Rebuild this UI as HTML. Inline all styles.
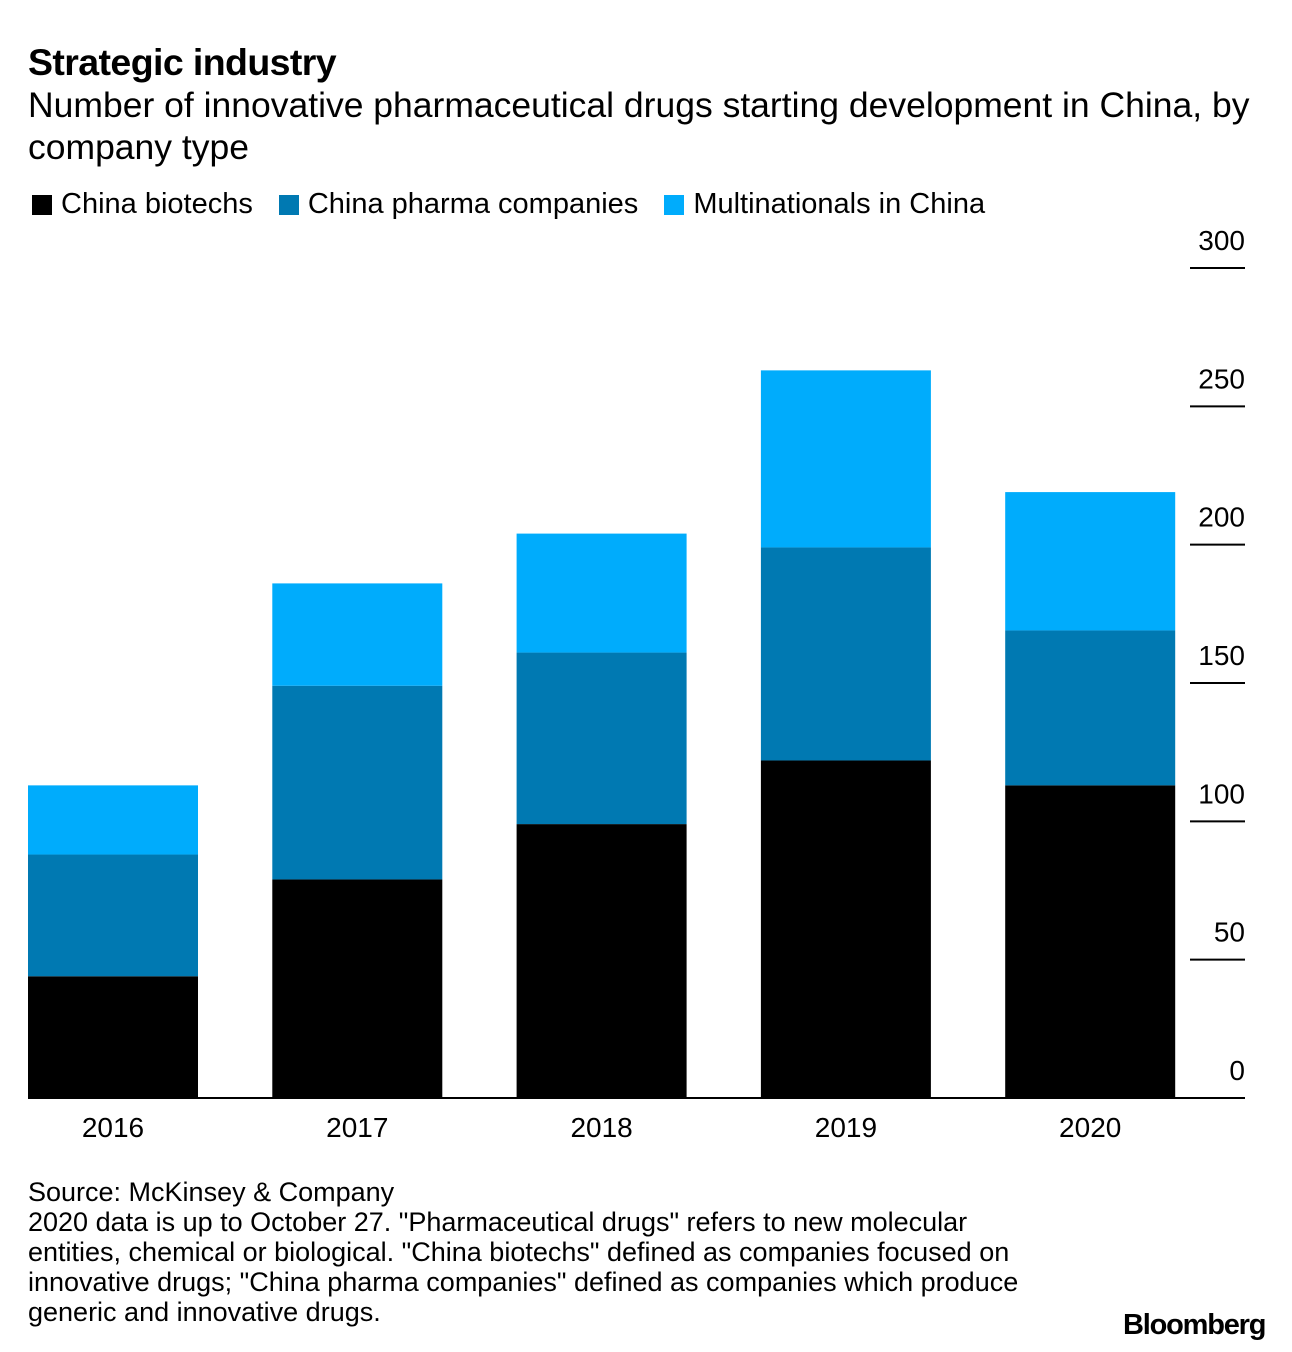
<!DOCTYPE html>
<html><head><meta charset="utf-8"><style>
body{margin:0;background:#fff;font-family:"Liberation Sans",Arial,sans-serif;color:#000}
#wrap{position:relative;width:1292px;height:1352px;overflow:hidden}
.t{position:absolute;white-space:nowrap}
</style></head><body>
<div id="wrap">
<div class="t" style="left:28px;top:41px;font-size:37.5px;font-weight:bold;letter-spacing:-0.6px">Strategic industry</div>
<div class="t" style="left:28px;top:84px;font-size:35.5px;line-height:42px;white-space:normal;width:1262px">Number of innovative pharmaceutical drugs starting development in China, by company type</div>
<div style="position:absolute;left:28px;top:188px;font-size:29px;display:flex;align-items:center">
<span style="display:flex;align-items:center"><span style="width:20px;height:20px;background:#000;margin:0 9px 0 4px"></span>China biotechs</span>
<span style="display:flex;align-items:center;margin-left:26px"><span style="width:20px;height:20px;background:#0079b2;margin-right:9px"></span>China pharma companies</span>
<span style="display:flex;align-items:center;margin-left:26px"><span style="width:20px;height:20px;background:#00acfc;margin-right:9px"></span>Multinationals in China</span>
</div>
<svg id="plot" width="1292" height="1352" style="position:absolute;left:0;top:0"></svg>
<div class="t" style="left:28px;top:1177px;font-size:27px;line-height:30px;white-space:normal;width:1020px">Source: McKinsey &amp; Company<br>2020 data is up to October 27. "Pharmaceutical drugs" refers to new molecular entities, chemical or biological. "China biotechs" defined as companies focused on innovative drugs; "China pharma companies" defined as companies which produce generic and innovative drugs.</div>
<div class="t" style="left:1123px;top:1309px;font-size:29px;font-weight:bold;letter-spacing:-1.2px">Bloomberg</div>
</div>
<script>
const years=["2016","2017","2018","2019","2020"];
const biotechs=[44,79,99,122,113];
const pharma=[44,70,62,77,56];
const multinationals=[25,37,43,64,50];
const ticks=[0,50,100,150,200,250,300];
const svg=document.getElementById('plot');
const NS='http://www.w3.org/2000/svg';
const y0=1098,pxPer=(1098-268)/300;
const yScale=v=>y0-v*pxPer;
const xScale=i=>28+i*244.3;
const bw=170;
function mk(tag,attrs){const e=document.createElementNS(NS,tag);for(const k in attrs)e.setAttribute(k,attrs[k]);svg.appendChild(e);return e;}
ticks.forEach(t=>{
 const y=yScale(t);
 if(t>0){const l=mk('line',{x1:1190,x2:1245,y1:y,y2:y,stroke:'#000','stroke-width':2});
 
 }
 const tx=mk('text',{x:1245,y:y-18,'text-anchor':'end','font-size':28,'font-family':'Liberation Sans, sans-serif'});
 tx.textContent=t;
 
 
});
const series=[[biotechs,'#000','biotechs'],[pharma,'#0079b2','pharma'],[multinationals,'#00acfc','multinationals']];
years.forEach((yr,i)=>{
 let base=0;
 series.forEach(([arr,col,nm])=>{
  const top=base+arr[i];
  const r=mk('rect',{x:xScale(i),y:yScale(top),width:bw,height:yScale(base)-yScale(top),fill:col});
  
  
  base=top;
 });
 const tx=mk('text',{x:xScale(i)+bw/2,y:1137,'text-anchor':'middle','font-size':28,'font-family':'Liberation Sans, sans-serif'});
 tx.textContent=yr;
 
 
});
const ax=mk('line',{x1:28,x2:1245,y1:y0,y2:y0,stroke:'#000','stroke-width':2});


</script>
</body></html>
